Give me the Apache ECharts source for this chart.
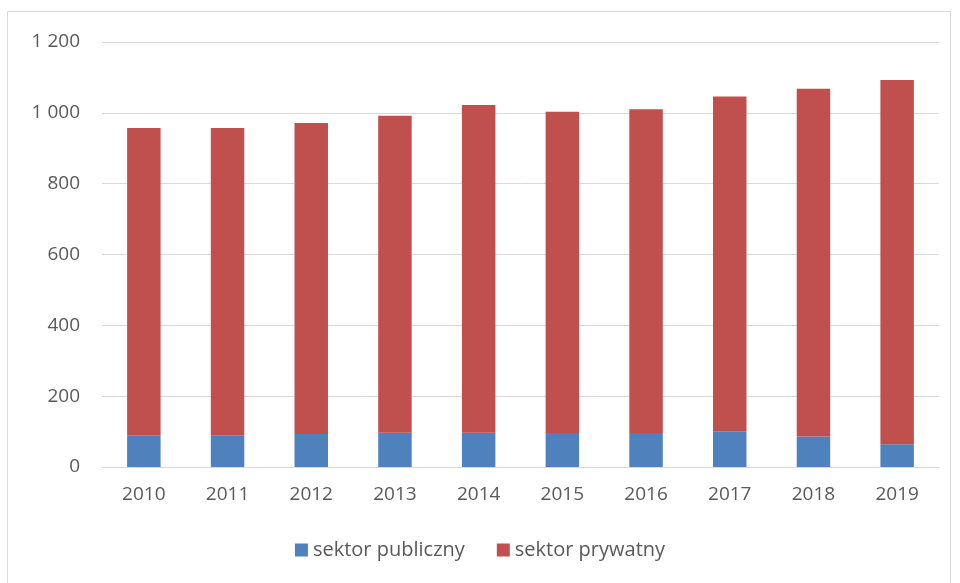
<!DOCTYPE html>
<html><head><meta charset="utf-8">
<script src="https://cdn.jsdelivr.net/npm/echarts@6/dist/echarts.min.js"></script>
<style>html,body{margin:0;padding:0;background:#fff}#c{width:960px;height:583px}</style>
</head><body><div id="c"></div>
<script>
const categories = ['2010','2011','2012','2013','2014','2015','2016','2017','2018','2019'];
const publicSector = [90, 90, 93, 97, 97, 96, 96, 101, 86, 64];
const privateSector = [867, 867, 878, 895, 925, 907, 914, 945, 982, 1029];
const seriesNames = ['sektor publiczny', 'sektor prywatny'];
const yTicks = [0, 200, 400, 600, 800, 1000, 1200];

const chart = echarts.init(document.getElementById('c'), null, {renderer: 'canvas'});
const font = 'Open Sans';
chart.setOption({
  animation: false,
  backgroundColor: '#fff',
  graphic: [{type: 'rect', shape: {x: 7.5, y: 11.5, width: 943, height: 600}, style: {fill: 'none', stroke: '#d9d9d9', lineWidth: 1}, silent: true}],
  grid: {left: 102, right: 21, top: 42, bottom: 116},
  legend: {
    bottom: 18, left: 'center', itemWidth: 13, itemHeight: 13, itemGap: 32,
    icon: 'rect',
    textStyle: {color: '#595959', fontSize: 20, fontFamily: font},
    data: seriesNames
  },
  xAxis: {
    type: 'category', data: categories,
    axisLine: {lineStyle: {color: '#d9d9d9', width: 1}},
    axisTick: {show: false},
    axisLabel: {color: '#595959', fontSize: 19, fontFamily: font, margin: 18}
  },
  yAxis: {
    type: 'value', min: 0, max: 1200, interval: 200,
    axisLine: {show: false}, axisTick: {show: false},
    splitLine: {lineStyle: {color: '#d9d9d9', width: 1}},
    axisLabel: {color: '#595959', fontSize: 19, fontFamily: font, margin: 22,
      formatter: v => yTicks.includes(v) ? String(v).replace(/\B(?=(\d{3})+(?!\d))/g, ' ') : ''}
  },
  series: [
    {name: seriesNames[0], type: 'bar', stack: 't', data: publicSector, barWidth: '40%',
     itemStyle: {color: '#4f81bd'}},
    {name: seriesNames[1], type: 'bar', stack: 't', data: privateSector, barWidth: '40%',
     itemStyle: {color: '#c0504d'}}
  ]
});
</script></body></html>
